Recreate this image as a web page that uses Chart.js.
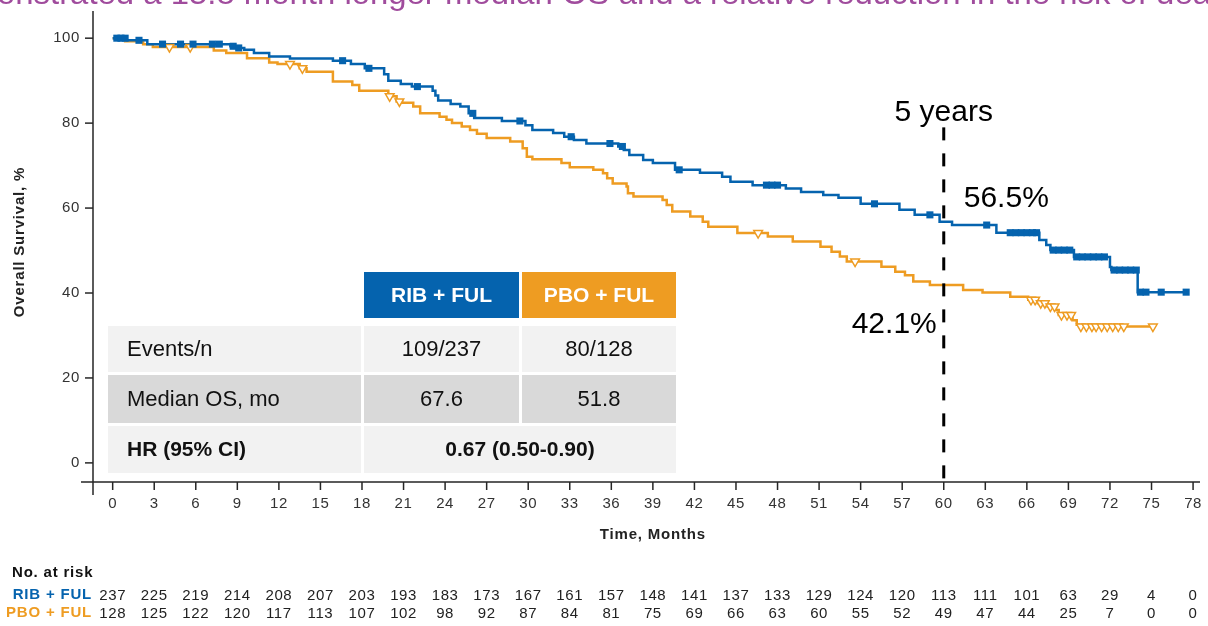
<!DOCTYPE html>
<html>
<head>
<meta charset="utf-8">
<script src="https://cdn.jsdelivr.net/npm/chart.js@4.4.0/dist/chart.umd.min.js"></script>
<style>
    html, body { margin: 0; padding: 0; background: #fff; overflow: hidden; }
    #wrap { position: relative; width: 1208px; height: 626px; }
</style>
</head>
<body>
<div id="wrap"><canvas id="osChart" width="1208" height="626"></canvas></div>
<script>
// 坐标轴刻度
const monthTicks = [0, 3, 6, 9, 12, 15, 18, 21, 24, 27, 30, 33, 36, 39, 42, 45, 48, 51, 54, 57, 60, 63, 66, 69, 72, 75, 78];
const survivalTicks = [0, 20, 40, 60, 80, 100];

// RIB + FUL 生存曲线（月份, 生存率%）
const ribTimes = [0, 1.0, 2.5, 8.5, 9.0, 9.5, 10.2, 11.3, 12.8, 15.9,
    17.2, 18.2, 19.6, 19.9, 20.8, 21.6, 23.1, 23.3, 23.5, 24.4,
    25.1, 25.7, 26.1, 28.1, 29.8, 30.3, 31.8, 32.6, 33.3, 34.2,
    36.5, 36.9, 37.3, 38.3, 39.0, 40.6, 42.4, 44.0, 44.6, 46.2,
    48.6, 49.7, 51.3, 52.4, 54.0, 56.8, 57.9, 59.7, 60.6, 63.8,
    66.9, 67.4, 67.7, 69.4, 72.0, 72.1, 74.0, 77.5];
const ribSurv = [100, 99.5, 98.6, 98.1, 97.7, 97.3, 96.5, 95.7, 95.2, 94.7,
    93.9, 92.9, 91.5, 90.0, 89.2, 88.6, 87.6, 86.5, 85.3, 84.5,
    83.9, 82.3, 81.2, 80.5, 79.5, 78.4, 77.7, 76.8, 76.0, 75.2,
    74.5, 73.7, 72.5, 71.3, 70.6, 69.0, 68.3, 67.4, 66.2, 65.4,
    64.6, 63.8, 63.1, 62.4, 61.0, 59.6, 58.4, 56.8, 56.0, 54.2,
    52.5, 51.3, 50.1, 48.5, 46.1, 45.4, 40.2, 40.2];
const ribCensor = [0.3, 0.6, 0.9, 1.9, 3.6, 4.9, 5.8, 7.2, 7.7, 8.7, 9.1, 16.6, 18.5, 22.0, 26.0,
    29.4, 33.1, 35.9, 36.8, 40.9, 47.2, 47.6, 48.0, 55.0, 59.0, 63.1, 64.8, 65.2, 65.6, 66.0,
    66.4, 66.7, 67.9, 68.3, 68.7, 69.1, 69.6, 70.0, 70.4, 70.8, 71.2, 71.6, 72.3, 72.7, 73.1,
    73.5, 73.9, 74.2, 74.6, 75.7, 77.5];

// PBO + FUL 生存曲线
const pboTimes = [0, 0.9, 2.2, 2.9, 7.3, 8.2, 9.7, 11.3, 11.9, 13.5,
    14.0, 15.9, 17.3, 17.8, 19.9, 20.5, 20.9, 21.7, 22.2, 23.6,
    24.1, 24.5, 25.2, 25.8, 26.3, 27.0, 28.7, 29.6, 29.9, 30.3,
    32.4, 33.0, 34.7, 35.4, 35.7, 36.1, 37.1, 37.2, 37.6, 39.7,
    40.0, 40.4, 41.7, 42.6, 43.0, 45.1, 47.3, 49.1, 51.1, 51.9,
    52.5, 53.0, 55.5, 56.5, 57.2, 57.8, 59.0, 61.4, 62.8, 64.8,
    66.1, 66.8, 67.5, 68.1, 68.3, 69.3, 69.6, 69.8, 75.1];
const pboSurv = [100, 99.3, 98.6, 97.9, 97.1, 96.5, 95.3, 94.3, 93.9, 92.9,
    92.1, 89.8, 89.0, 87.6, 86.3, 85.1, 84.8, 83.9, 82.3, 81.5,
    80.8, 80.0, 79.2, 78.4, 77.5, 76.5, 75.7, 74.1, 72.1, 71.5,
    70.6, 69.6, 69.0, 68.2, 67.0, 65.8, 65.1, 63.5, 62.7, 61.9,
    60.7, 59.2, 58.0, 56.8, 55.6, 54.1, 53.3, 52.1, 50.9, 49.7,
    48.6, 47.4, 46.2, 45.0, 44.2, 42.7, 41.9, 40.7, 40.1, 39.1,
    38.4, 37.6, 36.8, 36.0, 34.8, 33.6, 32.5, 32.1, 32.1];
const pboCensor = [4.1, 5.6, 12.8, 13.7, 20.0, 20.7, 46.6, 53.6, 66.3, 66.6, 67.0, 67.3, 67.7, 68.0,
    68.5, 68.9, 69.2, 69.9, 70.3, 70.7, 71.0, 71.4, 71.8, 72.2, 72.6, 73.0, 75.1];

// 风险人数
const ribAtRisk = [237, 225, 219, 214, 208, 207, 203, 193, 183, 173, 167, 161, 157, 148, 141, 137, 133, 129, 124, 120, 113, 111, 101, 63, 29, 4, 0];
const pboAtRisk = [128, 125, 122, 120, 117, 113, 107, 102, 98, 92, 87, 84, 81, 75, 69, 66, 63, 60, 55, 52, 49, 47, 44, 25, 7, 0, 0];

// 表格内容
const tableHeaders = ['RIB + FUL', 'PBO + FUL'];
const tableRows = [['Events/n', '109/237', '80/128'], ['Median OS, mo', '67.6', '51.8']];
const hrRow = ['HR (95% CI)', '0.67 (0.50-0.90)'];

const landmarkMonth = 60;
const ribLandmark = '56.5%';
const pboLandmark = '42.1%';
const titleText = 'onstrated a 15.8 month longer median OS and a relative reduction in the risk of dea';

const RIB_COLOR = '#0563ae';
const PBO_COLOR = '#ee9c22';
const FONT = "'Liberation Sans', Arial, sans-serif";

// 取阶梯曲线在某一时间点的值
function stepValueAt(times, surv, t) {
    let v = surv[0];
    for (let i = 0; i < times.length; i++) {
        if (times[i] <= t) v = surv[i];
    }
    return v;
}

function toPoints(xs, ys) {
    return xs.map(function(x, i) { return { x: x, y: ys[i] }; });
}

function drawTable(ctx) {
    const colX = [[108, 361], [364, 519], [522, 676]];
    const headY = [272, 318];
    const rowY = [[326, 372], [375, 423], [426, 473]];
    const rowFill = ['#f2f2f2', '#d9d9d9', '#f2f2f2'];

    ctx.textBaseline = 'middle';
    // 表头
    [RIB_COLOR, PBO_COLOR].forEach(function(c, i) {
        const cx = colX[i + 1];
        ctx.fillStyle = c;
        ctx.fillRect(cx[0], headY[0], cx[1] - cx[0], headY[1] - headY[0]);
        ctx.fillStyle = '#fff';
        ctx.font = 'bold 21px ' + FONT;
        ctx.textAlign = 'center';
        ctx.fillText(tableHeaders[i], (cx[0] + cx[1]) / 2, (headY[0] + headY[1]) / 2 + 1);
    });

    // 数据行
    tableRows.forEach(function(row, r) {
        const ry = rowY[r];
        const my = (ry[0] + ry[1]) / 2 + 1;
        colX.forEach(function(cx, c) {
            ctx.fillStyle = rowFill[r];
            ctx.fillRect(cx[0], ry[0], cx[1] - cx[0], ry[1] - ry[0]);
            ctx.fillStyle = '#111';
            ctx.font = '22px ' + FONT;
            if (c === 0) {
                ctx.textAlign = 'left';
                ctx.fillText(row[c], cx[0] + 19, my);
            } else {
                ctx.textAlign = 'center';
                ctx.fillText(row[c], (cx[0] + cx[1]) / 2, my);
            }
        });
    });

    // HR 行
    const hy = rowY[2];
    ctx.fillStyle = rowFill[2];
    ctx.fillRect(colX[0][0], hy[0], colX[0][1] - colX[0][0], hy[1] - hy[0]);
    ctx.fillRect(colX[1][0], hy[0], colX[2][1] - colX[1][0], hy[1] - hy[0]);
    ctx.fillStyle = '#111';
    ctx.font = 'bold 21px ' + FONT;
    ctx.textAlign = 'left';
    ctx.fillText(hrRow[0], colX[0][0] + 19, (hy[0] + hy[1]) / 2 + 1);
    ctx.textAlign = 'center';
    ctx.fillText(hrRow[1], (colX[1][0] + colX[2][1]) / 2, (hy[0] + hy[1]) / 2 + 1);
}

const osDecor = {
    id: 'osDecor',
    beforeDatasetsDraw: function(chart) {
        const ctx = chart.ctx;
        ctx.save();
        drawTable(ctx);
        ctx.restore();
    },
    afterDatasetsDraw: function(chart) {
        const ctx = chart.ctx;
        const xs = chart.scales.x;
        const ys = chart.scales.y;
        const area = chart.chartArea;
        ctx.save();

        // 顶部标题（被裁切），横向拉伸到整幅宽度
        ctx.font = '31px ' + FONT;
        ctx.fillStyle = '#a04c9d';
        ctx.textAlign = 'left';
        ctx.textBaseline = 'alphabetic';
        const tw = ctx.measureText(titleText).width;
        ctx.save();
        ctx.translate(-3, 4);
        ctx.scale(1214 / tw, 1);
        ctx.fillText(titleText, 0, 0);
        ctx.restore();

        // 坐标轴
        ctx.strokeStyle = '#262626';
        ctx.lineWidth = 1.5;
        ctx.beginPath();
        ctx.moveTo(area.left, area.top);
        ctx.lineTo(area.left, area.bottom + 13);
        ctx.moveTo(area.left - 12, area.bottom);
        ctx.lineTo(area.right, area.bottom);
        ctx.stroke();

        ctx.font = '15px ' + FONT;
        ctx.letterSpacing = '0.6px';
        ctx.fillStyle = '#333';

        // Y 轴刻度
        ctx.textAlign = 'right';
        ctx.textBaseline = 'middle';
        survivalTicks.forEach(function(v) {
            const py = ys.getPixelForValue(v);
            ctx.beginPath();
            ctx.moveTo(area.left - 8, py);
            ctx.lineTo(area.left, py);
            ctx.stroke();
            ctx.fillText(String(v), area.left - 13, py);
        });

        // X 轴刻度
        ctx.textAlign = 'center';
        monthTicks.forEach(function(m) {
            const px = xs.getPixelForValue(m);
            ctx.beginPath();
            ctx.moveTo(px, area.bottom);
            ctx.lineTo(px, area.bottom + 8);
            ctx.stroke();
            ctx.fillText(String(m), px, area.bottom + 22);
        });

        // 风险人数
        ctx.fillStyle = '#222';
        monthTicks.forEach(function(m, i) {
            const px = xs.getPixelForValue(m);
            ctx.fillText(String(ribAtRisk[i]), px, 596);
            ctx.fillText(String(pboAtRisk[i]), px, 614);
        });

        // 轴标题
        ctx.font = 'bold 15px ' + FONT;
        ctx.letterSpacing = '0.8px';
        ctx.fillStyle = '#222';
        ctx.fillText('Time, Months', (xs.getPixelForValue(0) + xs.getPixelForValue(78)) / 2, 535);
        ctx.save();
        ctx.translate(20, 242);
        ctx.rotate(-Math.PI / 2);
        ctx.fillText('Overall Survival, %', 0, 0);
        ctx.restore();

        ctx.textAlign = 'left';
        ctx.fillStyle = '#111';
        ctx.fillText('No. at risk', 12, 573);
        ctx.textAlign = 'right';
        ctx.fillStyle = RIB_COLOR;
        ctx.fillText('RIB + FUL', 92, 595);
        ctx.fillStyle = PBO_COLOR;
        ctx.fillText('PBO + FUL', 92, 613);
        ctx.letterSpacing = '0px';

        // 5 年虚线
        const lx = xs.getPixelForValue(landmarkMonth);
        ctx.strokeStyle = '#000';
        ctx.lineWidth = 3;
        ctx.setLineDash([13, 13]);
        ctx.beginPath();
        ctx.moveTo(lx, ys.getPixelForValue(79));
        ctx.lineTo(lx, area.bottom + 7);
        ctx.stroke();
        ctx.setLineDash([]);

        ctx.font = '30px ' + FONT;
        ctx.fillStyle = '#000';
        ctx.textBaseline = 'alphabetic';
        ctx.textAlign = 'center';
        ctx.fillText('5 years', lx, 121);
        ctx.textAlign = 'left';
        ctx.fillText(ribLandmark, lx + 20, 207);
        ctx.textAlign = 'right';
        ctx.fillText(pboLandmark, lx - 7, 333);

        ctx.restore();
    }
};

const chartCtx = document.getElementById('osChart').getContext('2d');
window.osChart = new Chart(chartCtx, {
    type: 'line',
    data: {
        datasets: [
            {
                label: 'RIB + FUL',
                data: toPoints(ribTimes, ribSurv),
                borderColor: RIB_COLOR,
                borderWidth: 2.5,
                stepped: true,
                pointRadius: 0,
                fill: false,
                order: 2
            },
            {
                label: 'PBO + FUL',
                data: toPoints(pboTimes, pboSurv),
                borderColor: PBO_COLOR,
                borderWidth: 2.5,
                stepped: true,
                pointRadius: 0,
                fill: false,
                order: 3
            },
            {
                type: 'scatter',
                label: 'RIB + FUL censored',
                data: ribCensor.map(function(t) { return { x: t, y: stepValueAt(ribTimes, ribSurv, t) }; }),
                pointStyle: 'rect',
                pointRadius: 5,
                backgroundColor: RIB_COLOR,
                borderColor: RIB_COLOR,
                borderWidth: 0,
                order: 0
            },
            {
                type: 'scatter',
                label: 'PBO + FUL censored',
                data: pboCensor.map(function(t) { return { x: t, y: stepValueAt(pboTimes, pboSurv, t) }; }),
                pointStyle: 'triangle',
                rotation: 180,
                pointRadius: 5,
                backgroundColor: '#fff',
                borderColor: PBO_COLOR,
                borderWidth: 1.5,
                order: 1
            }
        ]
    },
    options: {
        responsive: false,
        animation: false,
        layout: { padding: { left: 93, top: 11, right: 8, bottom: 144 } },
        plugins: {
            legend: { display: false },
            tooltip: { enabled: false }
        },
        scales: {
            x: { type: 'linear', min: -1.42, max: 78.5, display: false },
            y: { type: 'linear', min: -4.5, max: 106.4, display: false }
        }
    },
    plugins: [osDecor]
});
</script>
</body>
</html>
